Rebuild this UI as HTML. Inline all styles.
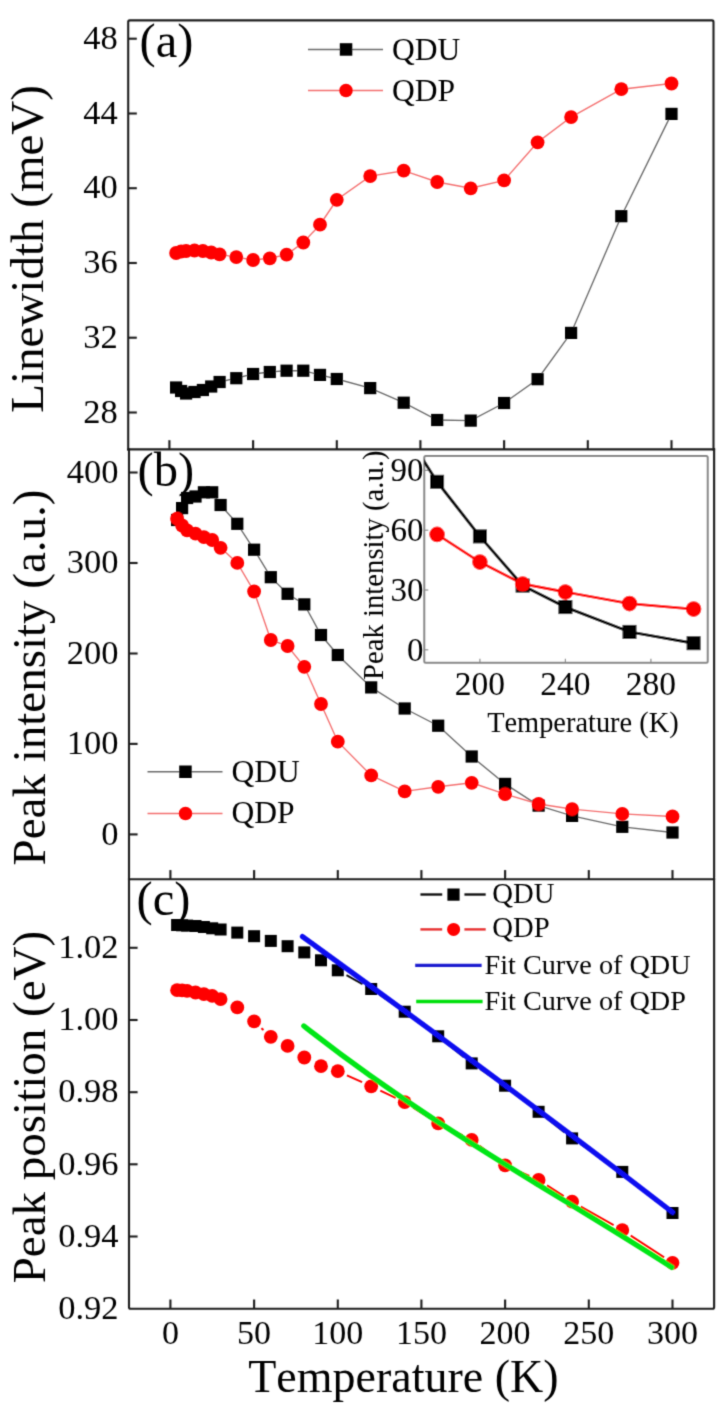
<!DOCTYPE html><html><head><meta charset="utf-8"><style>html,body{margin:0;padding:0;background:#fff;}svg{display:block;}text{font-family:"Liberation Serif",serif;fill:#000;font-kerning:none;}</style></head><body>
<svg width="723" height="1404" viewBox="0 0 723 1404">
<filter id="bl" x="0" y="0" width="723" height="1404" filterUnits="userSpaceOnUse"><feConvolveMatrix order="3" kernelMatrix="0.0225 0.105 0.0225 0.105 0.49 0.105 0.0225 0.105 0.0225" divisor="1" edgeMode="duplicate" preserveAlpha="false"/></filter>
<rect width="723" height="1404" fill="#fff"/>
<g filter="url(#bl)">
<path d="M176.1,387.5 L181.1,391.0 L186.1,393.5 L194.5,392.0 L202.9,390.0 L211.2,386.5 L219.6,382.0 L236.3,378.2 L253.1,374.0 L269.8,372.0 L286.6,370.7 L303.3,370.7 L320.0,374.9 L336.8,379.0 L370.2,388.1 L403.7,402.7 L437.2,420.0 L470.7,420.6 L504.1,403.0 L537.6,379.2 L571.1,332.9 L621.3,216.2 L671.5,113.9" fill="none" stroke="#6a6a6a" stroke-width="1.35"/>
<rect x="170.0" y="381.4" width="12.2" height="12.2" fill="#000"/><rect x="175.0" y="384.9" width="12.2" height="12.2" fill="#000"/><rect x="180.0" y="387.4" width="12.2" height="12.2" fill="#000"/><rect x="188.4" y="385.9" width="12.2" height="12.2" fill="#000"/><rect x="196.8" y="383.9" width="12.2" height="12.2" fill="#000"/><rect x="205.1" y="380.4" width="12.2" height="12.2" fill="#000"/><rect x="213.5" y="375.9" width="12.2" height="12.2" fill="#000"/><rect x="230.2" y="372.1" width="12.2" height="12.2" fill="#000"/><rect x="247.0" y="367.9" width="12.2" height="12.2" fill="#000"/><rect x="263.7" y="365.9" width="12.2" height="12.2" fill="#000"/><rect x="280.5" y="364.6" width="12.2" height="12.2" fill="#000"/><rect x="297.2" y="364.6" width="12.2" height="12.2" fill="#000"/><rect x="313.9" y="368.8" width="12.2" height="12.2" fill="#000"/><rect x="330.7" y="372.9" width="12.2" height="12.2" fill="#000"/><rect x="364.1" y="382.0" width="12.2" height="12.2" fill="#000"/><rect x="397.6" y="396.6" width="12.2" height="12.2" fill="#000"/><rect x="431.1" y="413.9" width="12.2" height="12.2" fill="#000"/><rect x="464.6" y="414.5" width="12.2" height="12.2" fill="#000"/><rect x="498.0" y="396.9" width="12.2" height="12.2" fill="#000"/><rect x="531.5" y="373.1" width="12.2" height="12.2" fill="#000"/><rect x="565.0" y="326.8" width="12.2" height="12.2" fill="#000"/><rect x="615.2" y="210.1" width="12.2" height="12.2" fill="#000"/><rect x="665.4" y="107.8" width="12.2" height="12.2" fill="#000"/>
<path d="M176.1,253.0 L181.1,251.5 L186.1,251.0 L194.5,250.5 L202.9,251.0 L211.2,252.5 L219.6,254.4 L236.3,257.1 L253.1,260.0 L269.8,258.3 L286.6,254.6 L303.3,242.5 L320.0,224.7 L336.8,199.8 L370.2,176.1 L403.7,170.7 L437.2,182.0 L470.7,188.3 L504.1,180.4 L537.6,142.3 L571.1,117.1 L621.3,89.2 L671.5,83.5" fill="none" stroke="#f47070" stroke-width="1.4"/>
<circle cx="176.1" cy="253.0" r="6.9" fill="#f00"/><circle cx="181.1" cy="251.5" r="6.9" fill="#f00"/><circle cx="186.1" cy="251.0" r="6.9" fill="#f00"/><circle cx="194.5" cy="250.5" r="6.9" fill="#f00"/><circle cx="202.9" cy="251.0" r="6.9" fill="#f00"/><circle cx="211.2" cy="252.5" r="6.9" fill="#f00"/><circle cx="219.6" cy="254.4" r="6.9" fill="#f00"/><circle cx="236.3" cy="257.1" r="6.9" fill="#f00"/><circle cx="253.1" cy="260.0" r="6.9" fill="#f00"/><circle cx="269.8" cy="258.3" r="6.9" fill="#f00"/><circle cx="286.6" cy="254.6" r="6.9" fill="#f00"/><circle cx="303.3" cy="242.5" r="6.9" fill="#f00"/><circle cx="320.0" cy="224.7" r="6.9" fill="#f00"/><circle cx="336.8" cy="199.8" r="6.9" fill="#f00"/><circle cx="370.2" cy="176.1" r="6.9" fill="#f00"/><circle cx="403.7" cy="170.7" r="6.9" fill="#f00"/><circle cx="437.2" cy="182.0" r="6.9" fill="#f00"/><circle cx="470.7" cy="188.3" r="6.9" fill="#f00"/><circle cx="504.1" cy="180.4" r="6.9" fill="#f00"/><circle cx="537.6" cy="142.3" r="6.9" fill="#f00"/><circle cx="571.1" cy="117.1" r="6.9" fill="#f00"/><circle cx="621.3" cy="89.2" r="6.9" fill="#f00"/><circle cx="671.5" cy="83.5" r="6.9" fill="#f00"/>
<path d="M177.1,520.0 L182.1,508.1 L187.1,498.0 L195.5,496.5 L203.9,492.3 L212.2,492.3 L220.6,505.0 L237.3,523.8 L254.1,549.7 L270.8,577.2 L287.6,593.8 L304.3,604.4 L321.0,635.0 L337.8,655.0 L371.2,687.4 L404.7,708.5 L438.2,725.7 L471.7,756.5 L505.1,783.9 L538.6,805.6 L572.1,815.9 L622.3,826.8 L672.5,832.5" fill="none" stroke="#6a6a6a" stroke-width="1.35"/>
<rect x="171.0" y="513.9" width="12.2" height="12.2" fill="#000"/><rect x="176.0" y="502.0" width="12.2" height="12.2" fill="#000"/><rect x="181.0" y="491.9" width="12.2" height="12.2" fill="#000"/><rect x="189.4" y="490.4" width="12.2" height="12.2" fill="#000"/><rect x="197.8" y="486.2" width="12.2" height="12.2" fill="#000"/><rect x="206.1" y="486.2" width="12.2" height="12.2" fill="#000"/><rect x="214.5" y="498.9" width="12.2" height="12.2" fill="#000"/><rect x="231.2" y="517.7" width="12.2" height="12.2" fill="#000"/><rect x="248.0" y="543.6" width="12.2" height="12.2" fill="#000"/><rect x="264.7" y="571.1" width="12.2" height="12.2" fill="#000"/><rect x="281.5" y="587.7" width="12.2" height="12.2" fill="#000"/><rect x="298.2" y="598.3" width="12.2" height="12.2" fill="#000"/><rect x="314.9" y="628.9" width="12.2" height="12.2" fill="#000"/><rect x="331.7" y="648.9" width="12.2" height="12.2" fill="#000"/><rect x="365.1" y="681.3" width="12.2" height="12.2" fill="#000"/><rect x="398.6" y="702.4" width="12.2" height="12.2" fill="#000"/><rect x="432.1" y="719.6" width="12.2" height="12.2" fill="#000"/><rect x="465.6" y="750.4" width="12.2" height="12.2" fill="#000"/><rect x="499.0" y="777.8" width="12.2" height="12.2" fill="#000"/><rect x="532.5" y="799.5" width="12.2" height="12.2" fill="#000"/><rect x="566.0" y="809.8" width="12.2" height="12.2" fill="#000"/><rect x="616.2" y="820.7" width="12.2" height="12.2" fill="#000"/><rect x="666.4" y="826.4" width="12.2" height="12.2" fill="#000"/>
<path d="M177.1,518.7 L182.1,525.5 L187.1,530.3 L195.5,533.7 L203.9,537.1 L212.2,540.0 L220.6,547.8 L237.3,562.9 L254.1,591.5 L270.8,640.0 L287.6,646.0 L304.3,666.8 L321.0,704.0 L337.8,741.7 L371.2,775.4 L404.7,791.4 L438.2,786.8 L471.7,782.8 L505.1,794.2 L538.6,804.0 L572.1,809.1 L622.3,813.9 L672.5,816.5" fill="none" stroke="#f47070" stroke-width="1.4"/>
<circle cx="177.1" cy="518.7" r="6.9" fill="#f00"/><circle cx="182.1" cy="525.5" r="6.9" fill="#f00"/><circle cx="187.1" cy="530.3" r="6.9" fill="#f00"/><circle cx="195.5" cy="533.7" r="6.9" fill="#f00"/><circle cx="203.9" cy="537.1" r="6.9" fill="#f00"/><circle cx="212.2" cy="540.0" r="6.9" fill="#f00"/><circle cx="220.6" cy="547.8" r="6.9" fill="#f00"/><circle cx="237.3" cy="562.9" r="6.9" fill="#f00"/><circle cx="254.1" cy="591.5" r="6.9" fill="#f00"/><circle cx="270.8" cy="640.0" r="6.9" fill="#f00"/><circle cx="287.6" cy="646.0" r="6.9" fill="#f00"/><circle cx="304.3" cy="666.8" r="6.9" fill="#f00"/><circle cx="321.0" cy="704.0" r="6.9" fill="#f00"/><circle cx="337.8" cy="741.7" r="6.9" fill="#f00"/><circle cx="371.2" cy="775.4" r="6.9" fill="#f00"/><circle cx="404.7" cy="791.4" r="6.9" fill="#f00"/><circle cx="438.2" cy="786.8" r="6.9" fill="#f00"/><circle cx="471.7" cy="782.8" r="6.9" fill="#f00"/><circle cx="505.1" cy="794.2" r="6.9" fill="#f00"/><circle cx="538.6" cy="804.0" r="6.9" fill="#f00"/><circle cx="572.1" cy="809.1" r="6.9" fill="#f00"/><circle cx="622.3" cy="813.9" r="6.9" fill="#f00"/><circle cx="672.5" cy="816.5" r="6.9" fill="#f00"/>
<path d="M346.5,975.2 L362.5,984.1 M379.5,994.6 L396.4,1006.1 M412.8,1017.6 L430.1,1030.4 M446.0,1042.6 L463.9,1057.1 M480.0,1068.9 L496.8,1080.2 M513.0,1091.8 L530.7,1105.7 M546.4,1118.0 L564.3,1132.2 M580.4,1144.0 L614.0,1166.3 M630.0,1178.2 L664.8,1206.7 " fill="none" stroke="#111" stroke-width="2"/>
<rect x="171.1" y="919.0" width="12.0" height="12.0" fill="#000"/><rect x="176.1" y="919.3" width="12.0" height="12.0" fill="#000"/><rect x="181.1" y="919.6" width="12.0" height="12.0" fill="#000"/><rect x="189.5" y="920.0" width="12.0" height="12.0" fill="#000"/><rect x="197.9" y="921.0" width="12.0" height="12.0" fill="#000"/><rect x="206.2" y="922.3" width="12.0" height="12.0" fill="#000"/><rect x="214.6" y="923.5" width="12.0" height="12.0" fill="#000"/><rect x="231.3" y="926.6" width="12.0" height="12.0" fill="#000"/><rect x="248.1" y="930.2" width="12.0" height="12.0" fill="#000"/><rect x="264.8" y="934.9" width="12.0" height="12.0" fill="#000"/><rect x="281.6" y="940.2" width="12.0" height="12.0" fill="#000"/><rect x="298.3" y="946.4" width="12.0" height="12.0" fill="#000"/><rect x="315.0" y="954.3" width="12.0" height="12.0" fill="#000"/><rect x="331.8" y="964.3" width="12.0" height="12.0" fill="#000"/><rect x="365.2" y="983.0" width="12.0" height="12.0" fill="#000"/><rect x="398.7" y="1005.7" width="12.0" height="12.0" fill="#000"/><rect x="432.2" y="1030.3" width="12.0" height="12.0" fill="#000"/><rect x="465.7" y="1057.4" width="12.0" height="12.0" fill="#000"/><rect x="499.1" y="1079.7" width="12.0" height="12.0" fill="#000"/><rect x="532.6" y="1105.8" width="12.0" height="12.0" fill="#000"/><rect x="566.1" y="1132.4" width="12.0" height="12.0" fill="#000"/><rect x="616.3" y="1165.9" width="12.0" height="12.0" fill="#000"/><rect x="666.5" y="1207.0" width="12.0" height="12.0" fill="#000"/>
<path d="M261.4,1028.2 L263.5,1030.0 M346.9,1075.3 L362.1,1082.2 M380.3,1090.6 L395.7,1097.9 M413.2,1107.6 L429.7,1118.0 M447.2,1127.8 L462.7,1135.5 M479.6,1145.9 L497.2,1159.3 M514.3,1169.3 L529.4,1175.9 M547.0,1185.4 L563.7,1196.2 M580.8,1206.6 L613.6,1225.2 M630.7,1235.6 L664.1,1257.3 " fill="none" stroke="#f00" stroke-width="2"/>
<circle cx="177.1" cy="990.2" r="6.9" fill="#f00"/><circle cx="182.1" cy="990.4" r="6.9" fill="#f00"/><circle cx="187.1" cy="990.8" r="6.9" fill="#f00"/><circle cx="195.5" cy="992.5" r="6.9" fill="#f00"/><circle cx="203.9" cy="994.1" r="6.9" fill="#f00"/><circle cx="212.2" cy="995.8" r="6.9" fill="#f00"/><circle cx="220.6" cy="999.1" r="6.9" fill="#f00"/><circle cx="237.3" cy="1007.4" r="6.9" fill="#f00"/><circle cx="254.1" cy="1021.4" r="6.9" fill="#f00"/><circle cx="270.8" cy="1036.8" r="6.9" fill="#f00"/><circle cx="287.6" cy="1045.9" r="6.9" fill="#f00"/><circle cx="304.3" cy="1057.5" r="6.9" fill="#f00"/><circle cx="321.0" cy="1066.2" r="6.9" fill="#f00"/><circle cx="337.8" cy="1071.2" r="6.9" fill="#f00"/><circle cx="371.2" cy="1086.3" r="6.9" fill="#f00"/><circle cx="404.7" cy="1102.2" r="6.9" fill="#f00"/><circle cx="438.2" cy="1123.4" r="6.9" fill="#f00"/><circle cx="471.7" cy="1139.9" r="6.9" fill="#f00"/><circle cx="505.1" cy="1165.3" r="6.9" fill="#f00"/><circle cx="538.6" cy="1179.9" r="6.9" fill="#f00"/><circle cx="572.1" cy="1201.7" r="6.9" fill="#f00"/><circle cx="622.3" cy="1230.1" r="6.9" fill="#f00"/><circle cx="672.5" cy="1262.8" r="6.9" fill="#f00"/>
<path d="M302.5,936.6 Q487.5,1070.0 672.5,1212.2" stroke="#0a0af0" stroke-width="5.2" fill="none" stroke-linecap="round"/>
<path d="M303.9,1026.0 C426.53,1123.06 549.17,1188.68 671.8,1267.3" stroke="#00e614" stroke-width="5.4" fill="none" stroke-linecap="round"/>
<rect x="424.3" y="456.0" width="283.4" height="206.7" fill="#fff" stroke="#858585" stroke-width="2" rx="1.5"/>
<clipPath id="ic"><rect x="424.3" y="456.0" width="283.4" height="206.7"/></clipPath>
<g clip-path="url(#ic)">
<path d="M394.4,414.6 L437.1,481.8 L479.9,536.4 L522.6,585.6 L565.4,607.1 L629.5,631.9 L693.6,643.2" fill="none" stroke="#000" stroke-width="3"/>
<path d="M437.1,534.4 L479.9,562.1 L522.6,584.0 L565.4,592.0 L629.5,603.6 L693.6,609.1" fill="none" stroke="#f00" stroke-width="2.8"/>
<rect x="430.1" y="474.8" width="14.0" height="14.0" fill="#000"/><rect x="472.9" y="529.4" width="14.0" height="14.0" fill="#000"/><rect x="515.6" y="578.6" width="14.0" height="14.0" fill="#000"/><rect x="558.4" y="600.1" width="14.0" height="14.0" fill="#000"/><rect x="622.5" y="624.9" width="14.0" height="14.0" fill="#000"/><rect x="686.6" y="636.2" width="14.0" height="14.0" fill="#000"/>
<circle cx="437.1" cy="534.4" r="7.8" fill="#f00"/><circle cx="479.9" cy="562.1" r="7.8" fill="#f00"/><circle cx="522.6" cy="584.0" r="7.8" fill="#f00"/><circle cx="565.4" cy="592.0" r="7.8" fill="#f00"/><circle cx="629.5" cy="603.6" r="7.8" fill="#f00"/><circle cx="693.6" cy="609.1" r="7.8" fill="#f00"/>
</g>
<line x1="479.9" y1="662.7" x2="479.9" y2="658.7" stroke="#888" stroke-width="1.2"/>
<line x1="565.4" y1="662.7" x2="565.4" y2="658.7" stroke="#888" stroke-width="1.2"/>
<line x1="650.9" y1="662.7" x2="650.9" y2="658.7" stroke="#888" stroke-width="1.2"/>
<line x1="424.3" y1="649.8" x2="428.3" y2="649.8" stroke="#888" stroke-width="1.2"/>
<text x="423.6" y="660.8" font-size="33" text-anchor="end">0</text>
<line x1="424.3" y1="590.0" x2="428.3" y2="590.0" stroke="#888" stroke-width="1.2"/>
<text x="423.6" y="601.0" font-size="33" text-anchor="end">30</text>
<line x1="424.3" y1="530.2" x2="428.3" y2="530.2" stroke="#888" stroke-width="1.2"/>
<text x="423.6" y="541.2" font-size="33" text-anchor="end">60</text>
<line x1="424.3" y1="470.4" x2="428.3" y2="470.4" stroke="#888" stroke-width="1.2"/>
<text x="423.6" y="481.4" font-size="33" text-anchor="end">90</text>
<text x="479.9" y="695.3" font-size="33.5" text-anchor="middle">200</text>
<text x="565.4" y="695.3" font-size="33.5" text-anchor="middle">240</text>
<text x="650.9" y="695.3" font-size="33.5" text-anchor="middle">280</text>
<text x="582.9" y="731.5" font-size="28.4" text-anchor="middle">Temperature (K)</text>
<text transform="translate(382.8,565.2) rotate(-90)" font-size="28.7" text-anchor="middle">Peak intensity (a.u.)</text>
<g stroke="#1e1e1e" stroke-width="2.1" fill="none" stroke-linecap="square">
<path d="M128.2,449.4 L128.2,21.9 Q128.2,20.4 129.7,20.4 L712.0,20.4 Q713.5,20.4 713.5,21.9 L713.5,449.4"/>
<path d="M129.0,449.4 L129.0,1307.2 Q129.0,1308.7 130.5,1308.7 L712.6,1308.7 Q714.1,1308.7 714.1,1307.2 L714.1,449.4"/>
<line x1="128.2" y1="449.4" x2="714.1" y2="449.4"/>
<line x1="129.0" y1="879.3" x2="714.1" y2="879.3"/>
</g><g stroke="#1e1e1e" stroke-width="2.1" fill="none">
<line x1="169.4" y1="449.4" x2="169.4" y2="440.2"/>
<line x1="253.1" y1="449.4" x2="253.1" y2="440.2"/>
<line x1="336.8" y1="449.4" x2="336.8" y2="440.2"/>
<line x1="420.4" y1="449.4" x2="420.4" y2="440.2"/>
<line x1="504.1" y1="449.4" x2="504.1" y2="440.2"/>
<line x1="587.8" y1="449.4" x2="587.8" y2="440.2"/>
<line x1="671.5" y1="449.4" x2="671.5" y2="440.2"/>
<line x1="170.4" y1="879.3" x2="170.4" y2="870.1"/>
<line x1="254.1" y1="879.3" x2="254.1" y2="870.1"/>
<line x1="337.8" y1="879.3" x2="337.8" y2="870.1"/>
<line x1="421.4" y1="879.3" x2="421.4" y2="870.1"/>
<line x1="505.1" y1="879.3" x2="505.1" y2="870.1"/>
<line x1="588.8" y1="879.3" x2="588.8" y2="870.1"/>
<line x1="672.5" y1="879.3" x2="672.5" y2="870.1"/>
<line x1="170.4" y1="1308.7" x2="170.4" y2="1299.5"/>
<line x1="254.1" y1="1308.7" x2="254.1" y2="1299.5"/>
<line x1="337.8" y1="1308.7" x2="337.8" y2="1299.5"/>
<line x1="421.4" y1="1308.7" x2="421.4" y2="1299.5"/>
<line x1="505.1" y1="1308.7" x2="505.1" y2="1299.5"/>
<line x1="588.8" y1="1308.7" x2="588.8" y2="1299.5"/>
<line x1="672.5" y1="1308.7" x2="672.5" y2="1299.5"/>
<line x1="128.2" y1="412.5" x2="136.8" y2="412.5"/>
<line x1="128.2" y1="337.7" x2="136.8" y2="337.7"/>
<line x1="128.2" y1="263.0" x2="136.8" y2="263.0"/>
<line x1="128.2" y1="188.2" x2="136.8" y2="188.2"/>
<line x1="128.2" y1="113.5" x2="136.8" y2="113.5"/>
<line x1="128.2" y1="38.7" x2="136.8" y2="38.7"/>
<line x1="129.0" y1="834.4" x2="137.6" y2="834.4"/>
<line x1="129.0" y1="743.9" x2="137.6" y2="743.9"/>
<line x1="129.0" y1="653.5" x2="137.6" y2="653.5"/>
<line x1="129.0" y1="563.0" x2="137.6" y2="563.0"/>
<line x1="129.0" y1="472.5" x2="137.6" y2="472.5"/>
<line x1="129.0" y1="1236.5" x2="137.6" y2="1236.5"/>
<line x1="129.0" y1="1164.3" x2="137.6" y2="1164.3"/>
<line x1="129.0" y1="1092.2" x2="137.6" y2="1092.2"/>
<line x1="129.0" y1="1020.0" x2="137.6" y2="1020.0"/>
<line x1="129.0" y1="947.8" x2="137.6" y2="947.8"/>
</g>
<text x="117.8" y="422.7" font-size="34.5" text-anchor="end">28</text>
<text x="117.8" y="347.9" font-size="34.5" text-anchor="end">32</text>
<text x="117.8" y="273.2" font-size="34.5" text-anchor="end">36</text>
<text x="117.8" y="198.4" font-size="34.5" text-anchor="end">40</text>
<text x="117.8" y="123.7" font-size="34.5" text-anchor="end">44</text>
<text x="117.8" y="48.9" font-size="34.5" text-anchor="end">48</text>
<text x="118.6" y="844.6" font-size="34.5" text-anchor="end">0</text>
<text x="118.6" y="754.1" font-size="34.5" text-anchor="end">100</text>
<text x="118.6" y="663.7" font-size="34.5" text-anchor="end">200</text>
<text x="118.6" y="573.2" font-size="34.5" text-anchor="end">300</text>
<text x="118.6" y="482.7" font-size="34.5" text-anchor="end">400</text>
<text x="118.6" y="1318.9" font-size="34.5" text-anchor="end">0.92</text>
<text x="118.6" y="1246.7" font-size="34.5" text-anchor="end">0.94</text>
<text x="118.6" y="1174.5" font-size="34.5" text-anchor="end">0.96</text>
<text x="118.6" y="1102.4" font-size="34.5" text-anchor="end">0.98</text>
<text x="118.6" y="1030.2" font-size="34.5" text-anchor="end">1.00</text>
<text x="118.6" y="958.0" font-size="34.5" text-anchor="end">1.02</text>
<text x="170.4" y="1344.3" font-size="34" text-anchor="middle">0</text>
<text x="254.1" y="1344.3" font-size="34" text-anchor="middle">50</text>
<text x="337.8" y="1344.3" font-size="34" text-anchor="middle">100</text>
<text x="421.4" y="1344.3" font-size="34" text-anchor="middle">150</text>
<text x="505.1" y="1344.3" font-size="34" text-anchor="middle">200</text>
<text x="588.8" y="1344.3" font-size="34" text-anchor="middle">250</text>
<text x="672.5" y="1344.3" font-size="34" text-anchor="middle">300</text>
<text x="403.4" y="1391.8" font-size="46" text-anchor="middle">Temperature (K)</text>
<text transform="translate(42.6,248.9) rotate(-90)" font-size="47" text-anchor="middle">Linewidth (meV)</text>
<text transform="translate(44.5,677.5) rotate(-90)" font-size="47" text-anchor="middle">Peak intensity (a.u.)</text>
<text transform="translate(44.5,1107.1) rotate(-90)" font-size="47" text-anchor="middle">Peak position (eV)</text>
<text x="139.5" y="56.9" font-size="48.5">(a)</text>
<text x="137.5" y="485.6" font-size="48.5">(b)</text>
<text x="136.5" y="915.0" font-size="48.5">(c)</text>
<line x1="308.0" y1="49.5" x2="383.0" y2="49.5" stroke="#6a6a6a" stroke-width="1.6"/><rect x="339.8" y="43.2" width="12.5" height="12.5" fill="#000"/><text x="392.0" y="59.9" font-size="31.5">QDU</text><line x1="308.0" y1="90.5" x2="383.0" y2="90.5" stroke="#f47070" stroke-width="1.6"/><circle cx="346.0" cy="90.5" r="6.8" fill="#f00"/><text x="392.0" y="100.9" font-size="31.5">QDP</text>
<line x1="147.5" y1="771.7" x2="222.5" y2="771.7" stroke="#6a6a6a" stroke-width="1.6"/><rect x="179.2" y="765.5" width="12.5" height="12.5" fill="#000"/><text x="231.5" y="781.9" font-size="31.5">QDU</text><line x1="147.5" y1="813.5" x2="222.5" y2="813.5" stroke="#f47070" stroke-width="1.6"/><circle cx="185.5" cy="813.5" r="6.8" fill="#f00"/><text x="231.5" y="823.3" font-size="31.5">QDP</text>
<line x1="420.4" y1="894.5" x2="442.2" y2="894.5" stroke="#111" stroke-width="2.4"/><line x1="464.4" y1="894.5" x2="485.7" y2="894.5" stroke="#111" stroke-width="2.4"/>
<rect x="447.4" y="888.5" width="12.2" height="12.2" fill="#000"/>
<text x="492.3" y="902.8" font-size="28.7">QDU</text>
<line x1="420.4" y1="929.4" x2="442.2" y2="929.4" stroke="#e83030" stroke-width="2.4"/><line x1="464.4" y1="929.4" x2="485.7" y2="929.4" stroke="#e83030" stroke-width="2.4"/>
<circle cx="453.6" cy="929.4" r="6.5" fill="#f00"/>
<text x="492.3" y="937.2" font-size="28.7">QDP</text>
<line x1="415.2" y1="965.4" x2="481.6" y2="965.4" stroke="#1a1ad0" stroke-width="3.2"/>
<text x="484.6" y="973.9" font-size="28.2">Fit Curve of QDU</text>
<line x1="416.2" y1="1001.5" x2="482.6" y2="1001.5" stroke="#00e010" stroke-width="3.6"/>
<text x="484.6" y="1009.8" font-size="28.2">Fit Curve of QDP</text>
</g></svg></body></html>
